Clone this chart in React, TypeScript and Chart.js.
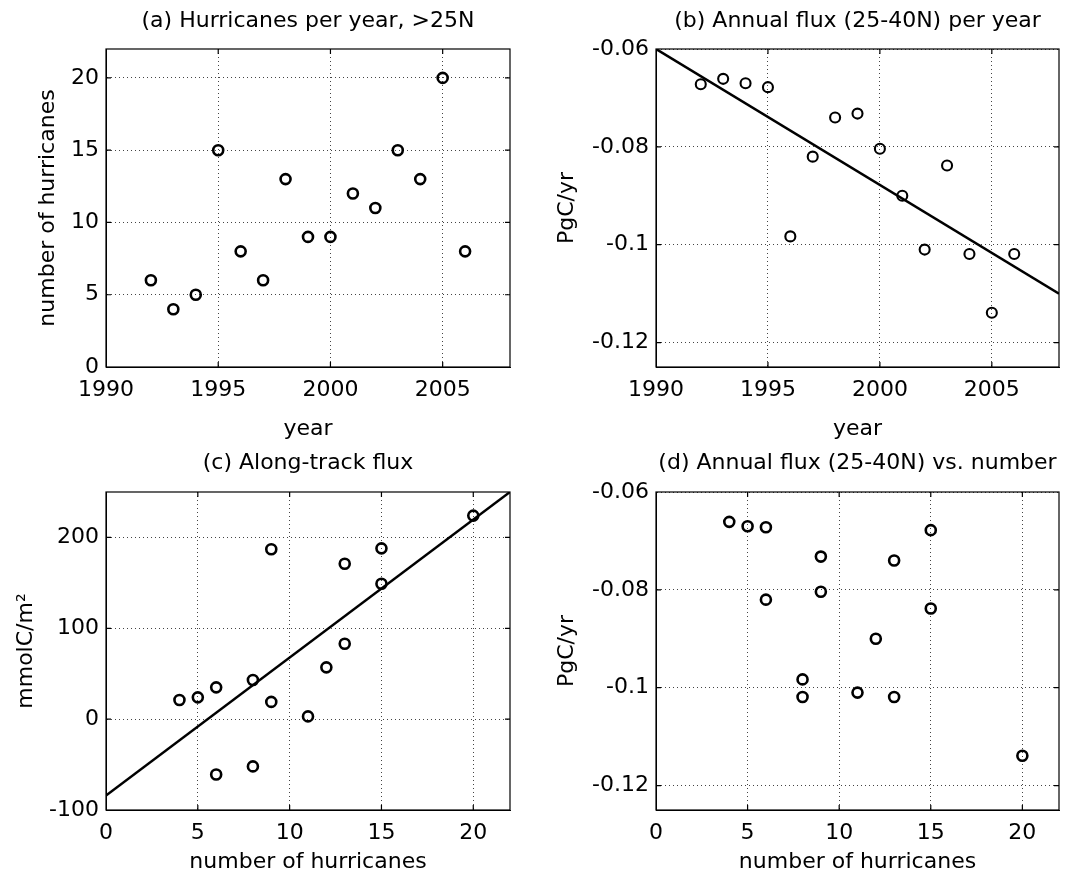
import React, { useEffect, useRef } from "react";
import { Chart, registerables } from "chart.js";

Chart.register(...registerables);

// ---------- data ----------
const years = [1992, 1993, 1994, 1995, 1996, 1997, 1998, 1999, 2000, 2001, 2002, 2003, 2004, 2005, 2006];
const hurricanesPerYear = [6, 4, 5, 15, 8, 6, 13, 9, 9, 12, 11, 15, 13, 20, 8];
const annualFlux = [-0.0672, -0.0661, -0.067, -0.0678, -0.0983, -0.082, -0.074, -0.0732, -0.0804, -0.09, -0.101, -0.0838, -0.1019, -0.1139, -0.1019];

const alongTrackHurricanes = [4, 5, 6, 6, 8, 8, 9, 9, 11, 12, 13, 13, 15, 15, 20];
const alongTrackFlux = [21, 24, 35, -61, 43, -52, 187, 19, 3, 57, 171, 83, 188, 149, 224];

const fluxTrendYears = [1990, 2008];
const fluxTrendValues = [-0.06, -0.11];
const alongFitHurricanes = [0, 22];
const alongFitFlux = [-84, 250];

const yearTicks = [1990, 1995, 2000, 2005];
const countTicks = [0, 5, 10, 15, 20];
const hurricaneTicks = [0, 5, 10, 15, 20];
const fluxTicks = [-0.12, -0.1, -0.08, -0.06];
const alongTicks = [-100, 0, 100, 200];

// ---------- styling ----------
const FONT = "'DejaVu Sans', 'Liberation Sans', sans-serif";
const fontSpec = { family: FONT, size: 22, lineHeight: 1.2 };

const boxPlugin = {
  id: "matlabBox",
  afterDraw(chart: any) {
    const { ctx, chartArea } = chart;
    const { left, right, top, bottom } = chartArea;
    const xs = chart.scales.x;
    const ys = chart.scales.y;
    ctx.save();
    ctx.strokeStyle = "#000";
    ctx.lineWidth = 1.2;
    ctx.strokeRect(left, top, right - left, bottom - top);
    const L = 5;
    ctx.beginPath();
    xs.ticks.forEach((t: any) => {
      const px = xs.getPixelForValue(t.value);
      if (px > left + 1 && px < right - 1) {
        ctx.moveTo(px, bottom);
        ctx.lineTo(px, bottom - L);
        ctx.moveTo(px, top);
        ctx.lineTo(px, top + L);
      }
    });
    ys.ticks.forEach((t: any) => {
      const py = ys.getPixelForValue(t.value);
      if (py > top + 1 && py < bottom - 1) {
        ctx.moveTo(left, py);
        ctx.lineTo(left + L, py);
        ctx.moveTo(right, py);
        ctx.lineTo(right - L, py);
      }
    });
    ctx.stroke();
    ctx.restore();
  },
};

type PanelSpec = {
  key: string;
  left: number;
  top: number;
  width: number;
  height: number;
  yAxisW: number;
  xAxisH: number;
  padRight: number;
  titleTop: number;
  titleBottom: number;
  yTitlePad: number;
  xTitlePad: number;
  title: string;
  xTitle: string;
  yTitle: string;
  xMin: number;
  xMax: number;
  yMin: number;
  yMax: number;
  xTicks: number[];
  yTicks: number[];
  points: { x: number; y: number }[];
  pointBorder: number;
  line?: { x: number; y: number }[];
};

const zip = (xs: number[], ys: number[]) => xs.map((x, i) => ({ x, y: ys[i] }));

const panels: PanelSpec[] = [
  {
    key: "a", left: 0, top: 0, width: 540, height: 440,
    yAxisW: 106, xAxisH: 73, padRight: 30, titleTop: 7.6, titleBottom: 15,
    yTitlePad: 35, xTitlePad: -2.5,
    title: "(a) Hurricanes per year, >25N", xTitle: "year", yTitle: "number of hurricanes",
    xMin: 1990, xMax: 2008, yMin: 0, yMax: 22, xTicks: yearTicks, yTicks: countTicks,
    points: zip(years, hurricanesPerYear), pointBorder: 2.6,
  },
  {
    key: "b", left: 540, top: 0, width: 537, height: 440,
    yAxisW: 116, xAxisH: 73, padRight: 18, titleTop: 7.6, titleBottom: 15,
    yTitlePad: 13.8, xTitlePad: -2.5,
    title: "(b) Annual flux (25-40N) per year", xTitle: "year", yTitle: "PgC/yr",
    xMin: 1990, xMax: 2008, yMin: -0.125, yMax: -0.06, xTicks: yearTicks, yTicks: fluxTicks,
    points: zip(years, annualFlux), pointBorder: 2.1,
    line: zip(fluxTrendYears, fluxTrendValues),
  },
  {
    key: "c", left: 0, top: 440, width: 540, height: 444,
    yAxisW: 106, xAxisH: 74, padRight: 30, titleTop: 10.3, titleBottom: 15.3,
    yTitlePad: 12.8, xTitlePad: 8.4,
    title: "(c) Along-track flux", xTitle: "number of hurricanes", yTitle: "mmolC/m²",
    xMin: 0, xMax: 22, yMin: -100, yMax: 250, xTicks: hurricaneTicks, yTicks: alongTicks,
    points: zip(alongTrackHurricanes, alongTrackFlux), pointBorder: 2.6,
    line: zip(alongFitHurricanes, alongFitFlux),
  },
  {
    key: "d", left: 540, top: 440, width: 537, height: 444,
    yAxisW: 116, xAxisH: 74, padRight: 18, titleTop: 10.3, titleBottom: 15.3,
    yTitlePad: 13.8, xTitlePad: 8.4,
    title: "(d) Annual flux (25-40N) vs. number", xTitle: "number of hurricanes", yTitle: "PgC/yr",
    xMin: 0, xMax: 22, yMin: -0.125, yMax: -0.06, xTicks: hurricaneTicks, yTicks: fluxTicks,
    points: zip(hurricanesPerYear, annualFlux), pointBorder: 2.6,
  },
];

function makeConfig(p: PanelSpec): any {
  const datasets: any[] = [];
  if (p.line) {
    datasets.push({
      data: p.line,
      showLine: true,
      borderColor: "#000",
      borderWidth: 2.5,
      pointRadius: 0,
      fill: false,
    });
  }
  datasets.push({
    data: p.points,
    pointStyle: "circle",
    pointRadius: 5,
    pointBackgroundColor: "rgba(0,0,0,0)",
    pointBorderColor: "#000",
    pointBorderWidth: p.pointBorder,
    showLine: false,
  });
  const axisCommon = {
    type: "linear",
    grid: { color: "#444", lineWidth: 1, drawTicks: false },
    border: { display: true, color: "#000", width: 1, dash: [1, 3] },
  };
  return {
    type: "scatter",
    data: { datasets },
    options: {
      animation: false,
      responsive: false,
      devicePixelRatio: 1,
      layout: { padding: { left: 0, right: p.padRight, top: 0, bottom: 0 } },
      plugins: {
        legend: { display: false },
        tooltip: { enabled: false },
        title: {
          display: true,
          text: p.title,
          fullSize: false,
          color: "#000",
          font: { ...fontSpec, weight: "normal" },
          padding: { top: p.titleTop, bottom: p.titleBottom },
        },
      },
      scales: {
        x: {
          ...axisCommon,
          position: "bottom",
          min: p.xMin,
          max: p.xMax,
          afterBuildTicks: (s: any) => {
            s.ticks = p.xTicks.map((v) => ({ value: v }));
          },
          afterFit: (s: any) => {
            s.height = p.xAxisH;
          },
          ticks: {
            callback: (v: any) => String(v),
            padding: 9.8,
            color: "#000",
            font: fontSpec,
            maxRotation: 0,
            autoSkip: false,
          },
          title: {
            display: true,
            text: p.xTitle,
            color: "#000",
            font: fontSpec,
            padding: { top: 0, bottom: p.xTitlePad },
          },
        },
        y: {
          ...axisCommon,
          position: "left",
          min: p.yMin,
          max: p.yMax,
          afterBuildTicks: (s: any) => {
            s.ticks = p.yTicks.map((v) => ({ value: v }));
          },
          afterFit: (s: any) => {
            s.width = p.yAxisW;
          },
          ticks: {
            callback: (v: any) => String(v),
            padding: 7,
            color: "#000",
            font: fontSpec,
            autoSkip: false,
          },
          title: {
            display: true,
            text: p.yTitle,
            color: "#000",
            font: fontSpec,
            padding: { top: p.yTitlePad, bottom: 0 },
          },
        },
      },
    },
    plugins: [boxPlugin],
  };
}

function Panel({ spec }: { spec: PanelSpec }) {
  const ref = useRef<HTMLCanvasElement | null>(null);
  useEffect(() => {
    if (!ref.current) return;
    const chart = new Chart(ref.current, makeConfig(spec));
    return () => chart.destroy();
  }, [spec]);
  return (
    <canvas
      ref={ref}
      width={spec.width}
      height={spec.height}
      style={{
        position: "absolute",
        left: spec.left,
        top: spec.top,
        width: spec.width,
        height: spec.height,
      }}
    />
  );
}

export default function App() {
  return (
    <div
      style={{
        position: "absolute",
        left: 0,
        top: 0,
        width: 1077,
        height: 884,
        background: "#fff",
        overflow: "hidden",
      }}
    >
      {panels.map((p) => (
        <Panel key={p.key} spec={p} />
      ))}
    </div>
  );
}
